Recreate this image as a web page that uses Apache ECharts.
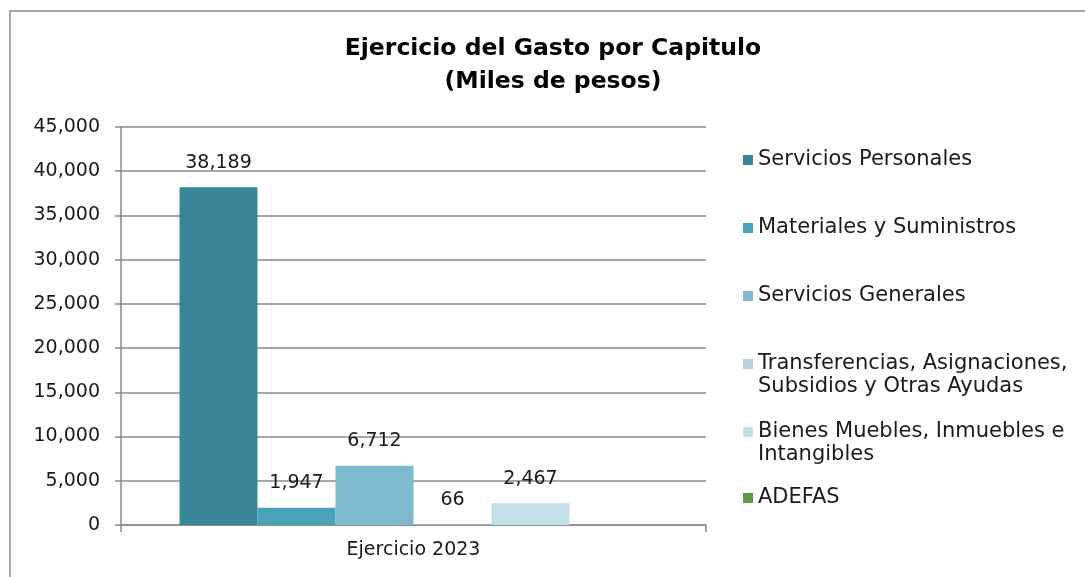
<!DOCTYPE html>
<html>
<head>
<meta charset="utf-8">
<script src="https://cdn.jsdelivr.net/npm/echarts@6/dist/echarts.min.js"></script>
<style>
html, body { margin: 0; padding: 0; background: #fff; overflow: hidden; }
#chart { width: 1085px; height: 577px; }
</style>
</head>
<body>
<div id="chart"></div>
<script>
// datos del reporte
var categories = ['Ejercicio 2023'];
var seriesNames = [
    'Servicios Personales',
    'Materiales y Suministros',
    'Servicios Generales',
    'Transferencias, Asignaciones,\nSubsidios y Otras Ayudas',
    'Bienes Muebles, Inmuebles e\nIntangibles',
    'ADEFAS'
];
var serviciosPersonales = [38189];
var materiales = [1947];
var serviciosGenerales = [6712];
var transferencias = [66];
var bienesMuebles = [2467];
var adefas = [0];

var colors = ['#3a8699', '#48a2b9', '#7dbacd', '#b3d4df', '#c2e0e7', '#5f9b3e'];
var font = 'DejaVu Sans';

var values = [serviciosPersonales, materiales, serviciosGenerales, transferencias, bienesMuebles, adefas];

var series = seriesNames.map(function (name, i) {
    return {
        name: name,
        type: 'bar',
        data: values[i],
        barGap: 0,
        barCategoryGap: '20%',
        itemStyle: { color: colors[i] },
        label: {
            show: true,
            position: 'top',
            distance: 15,
            color: '#1a1a1a',
            fontFamily: font,
            fontSize: 19,
            formatter: function (p) {
                return p.value === 0 ? '' : p.value.toLocaleString('en-US');
            }
        }
    };
});

// una leyenda por renglon para controlar la separacion
var legendTops = [148.5, 216.5, 284.5, 329.5, 397.5, 486.5];
var legends = seriesNames.map(function (name, i) {
    var twoLines = name.indexOf('\n') >= 0;
    return {
        data: [name],
        left: 743,
        top: legendTops[i],
        padding: 0,
        orient: 'vertical',
        itemWidth: 10,
        itemHeight: 10,
        icon: 'rect',
        selectedMode: false,
        // linea vacia arriba para que el cuadro quede junto al primer renglon
        formatter: function (n) { return twoLines ? '\n' + n : n; },
        textStyle: {
            fontFamily: font,
            fontSize: 21,
            lineHeight: 23,
            color: '#1a1a1a'
        }
    };
});

var option = {
    animation: false,
    title: {
        text: 'Ejercicio del Gasto por Capitulo\n(Miles de pesos)',
        left: 548,
        textAlign: 'center',
        top: 27,
        textStyle: {
            fontFamily: font,
            fontWeight: 'bold',
            fontSize: 23.5,
            lineHeight: 33,
            color: '#000'
        }
    },
    graphic: [{
        type: 'rect',
        shape: { x: 10, y: 11, width: 1200, height: 700 },
        style: { fill: 'none', stroke: '#8a8a8a', lineWidth: 1.5 },
        silent: true
    }],
    legend: legends,
    grid: { left: 121, right: 379, top: 127, bottom: 52 },
    xAxis: {
        type: 'category',
        data: categories,
        axisLine: { lineStyle: { color: '#8a8a8a', width: 1.5 } },
        axisTick: { show: true, length: 7, lineStyle: { color: '#8a8a8a', width: 1.5 } },
        axisLabel: { color: '#1a1a1a', fontFamily: font, fontSize: 19, margin: 16 }
    },
    yAxis: {
        type: 'value',
        min: 0,
        max: 45000,
        interval: 5000,
        axisLine: { show: true, lineStyle: { color: '#8a8a8a', width: 1.5 } },
        axisTick: { show: true, length: 6, lineStyle: { color: '#8a8a8a', width: 1.5 } },
        splitLine: { lineStyle: { color: '#8a8a8a', width: 1.5 } },
        axisLabel: { color: '#1a1a1a', fontFamily: font, fontSize: 19, margin: 21 }
    },
    series: series
};

var chart = echarts.init(document.getElementById('chart'));
chart.setOption(option);
</script>
</body>
</html>
